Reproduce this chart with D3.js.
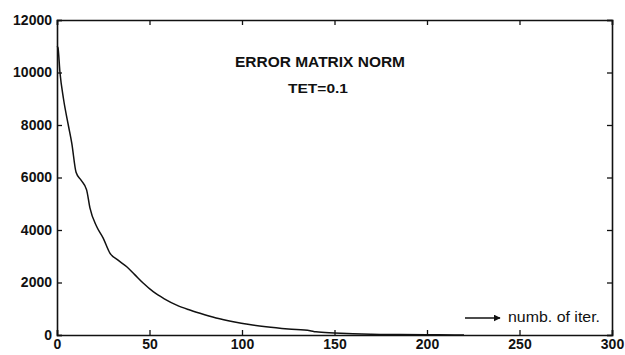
<!DOCTYPE html>
<html>
<head>
<meta charset="utf-8">
<script src="https://cdn.jsdelivr.net/npm/d3@7"></script>
<style>
  body { margin: 0; background: #fff; }
  text { font-family: "Liberation Sans", Arial, sans-serif; fill: #111; }
</style>
</head>
<body>
<svg id="chart" width="625" height="355"></svg>
<script>
// iteration number vs error matrix norm
const iterations = [0, 0.5, 1.6, 3.5, 6.1, 8, 10.3, 13, 16, 17.8, 21.5, 24.9, 28.6, 33, 37.7, 42, 46.7, 52, 58, 64.7, 71, 77.3, 86, 95.3, 104, 113, 125, 136.8, 140, 150, 160, 170, 185, 200, 215, 220];
const normValues = [11000, 10950, 10000, 9000, 8000, 7300, 6200, 5900, 5530, 4840, 4125, 3700, 3120, 2850, 2600, 2300, 1970, 1650, 1380, 1140, 970, 826, 650, 507, 400, 316, 230, 165, 120, 80, 50, 30, 18, 10, 4, 0];
const xTicks = [0, 50, 100, 150, 200, 250, 300];
const yTicks = [0, 2000, 4000, 6000, 8000, 10000, 12000];

const margin = { top: 20, right: 13, bottom: 20, left: 57 };
const width = 625, height = 355;

const svg = d3.select("#chart");

const x = d3.scaleLinear()
  .domain([0, 300])
  .range([margin.left, width - margin.right]);

const y = d3.scaleLinear()
  .domain([0, 12000])
  .range([height - margin.bottom, margin.top]);

// frame with inward ticks on all four sides
svg.append("g")
  .attr("transform", `translate(0,${y(0)})`)
  .call(d3.axisBottom(x).tickValues(xTicks).tickSize(-5).tickPadding(4))
  .call(g => g.selectAll("text").attr("font-size", 14).attr("font-weight", "bold"));

svg.append("g")
  .attr("transform", `translate(${x(0)},0)`)
  .call(d3.axisLeft(y).tickValues(yTicks).tickSize(-5).tickPadding(5).tickFormat(d3.format("d")))
  .call(g => g.selectAll("text").attr("font-size", 14).attr("font-weight", "bold"));

svg.append("g")
  .attr("transform", `translate(0,${y(12000)})`)
  .call(d3.axisTop(x).tickValues(xTicks).tickSize(-5).tickFormat(""));

svg.append("g")
  .attr("transform", `translate(${x(300)},0)`)
  .call(d3.axisRight(y).tickValues(yTicks).tickSize(-5).tickFormat(""));

svg.selectAll(".domain").attr("stroke", "#111").attr("stroke-width", 1.6);
svg.selectAll(".tick line").attr("stroke", "#111").attr("stroke-width", 1.3);

// the curve
const line = d3.line()
  .x((d, i) => x(iterations[i]))
  .y(d => y(d))
  .curve(d3.curveMonotoneX);

svg.append("path")
  .datum(normValues)
  .attr("fill", "none")
  .attr("stroke", "#111")
  .attr("stroke-width", 1.5)
  .attr("d", line);

// annotations
svg.append("text")
  .attr("x", 320)
  .attr("y", 67)
  .attr("text-anchor", "middle")
  .attr("font-size", 14)
  .attr("font-weight", "bold")
  .attr("textLength", 170)
  .attr("lengthAdjust", "spacingAndGlyphs")
  .text("ERROR MATRIX NORM");

svg.append("text")
  .attr("x", 318)
  .attr("y", 93)
  .attr("text-anchor", "middle")
  .attr("font-size", 13)
  .attr("font-weight", "bold")
  .attr("textLength", 60)
  .attr("lengthAdjust", "spacingAndGlyphs")
  .text("TET=0.1");

// arrow + axis caption
svg.append("defs").append("marker")
  .attr("id", "arrow")
  .attr("viewBox", "0 0 10 10")
  .attr("refX", 9).attr("refY", 5)
  .attr("markerWidth", 5).attr("markerHeight", 5)
  .attr("orient", "auto")
  .append("path")
  .attr("d", "M0,0 L10,5 L0,10 z")
  .attr("fill", "#111");

svg.append("line")
  .attr("x1", 465).attr("x2", 500)
  .attr("y1", 318).attr("y2", 318)
  .attr("stroke", "#111")
  .attr("stroke-width", 1.4)
  .attr("marker-end", "url(#arrow)");

svg.append("text")
  .attr("x", 508)
  .attr("y", 322)
  .attr("font-size", 14)
  .attr("textLength", 92)
  .attr("lengthAdjust", "spacingAndGlyphs")
  .text("numb. of iter.");
</script>
</body>
</html>
